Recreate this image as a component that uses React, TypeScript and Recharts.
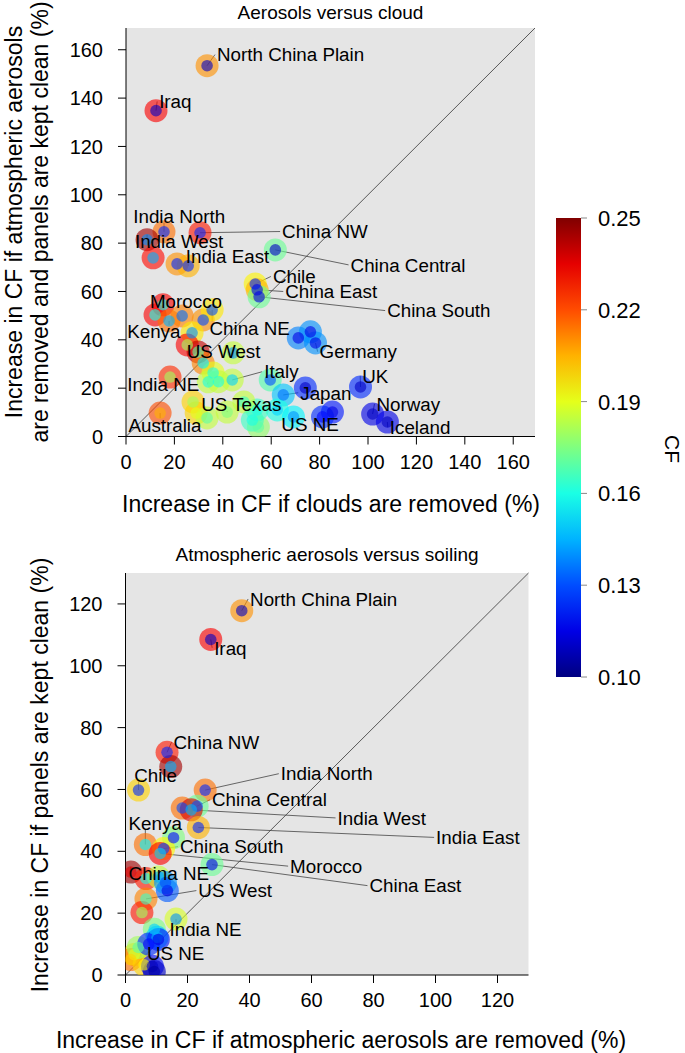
import React from "react";
import {
  ScatterChart,
  Scatter,
  XAxis,
  YAxis,
  ReferenceLine,
  ReferenceArea,
} from "recharts";

// ---------- data: aerosols versus cloud ----------
const TOP_NAMES = [
  "North China Plain", "Iraq", "India North", "China NW", "India West", "", "", "India East",
  "Chile", "China East", "China South", "China Central", "", "Morocco", "Kenya", "",
  "", "China NE", "", "", "", "", "", "US West",
  "India NE", "Italy", "", "Australia", "", "", "", "US Texas",
  "", "Japan", "", "US NE", "", "", "", "",
  "Germany", "", "UK", "Norway", "Iceland", "", "", "",
  "", "",
];
const TOP_X = [
  33.5, 12.4, 15.7, 30.6, 8.7, 11.2, 21.1, 25.7,
  53.4, 54.2, 55.0, 61.7, 12.0, 15.3, 17.8, 23.2,
  31.9, 35.6, 27.3, 25.3, 29.8, 31.9, 36.0, 44.3,
  34.0, 43.9, 18.2, 14.1, 27.7, 29.0, 33.5, 41.8,
  59.6, 65.0, 62.5, 69.2, 54.7, 54.2, 71.2, 76.2,
  78.3, 74.1, 96.9, 101.9, 108.0, 85.3, 81.2, 48.7,
  38.2, 52.2,
];
const TOP_Y = [
  153.4, 134.8, 84.7, 84.3, 81.4, 73.9, 71.4, 70.6,
  63.1, 60.7, 57.8, 77.2, 50.3, 54.5, 47.8, 49.9,
  48.2, 52.4, 42.9, 37.9, 35.0, 30.4, 26.3, 34.6,
  22.6, 23.4, 24.6, 9.7, 14.3, 9.7, 7.7, 10.1,
  23.4, 17.2, 11.0, 8.1, 3.9, 11.0, 40.8, 43.3,
  38.7, 20.1, 20.5, 9.3, 6.0, 10.1, 8.1, 14.3,
  22.7, 6.8,
];
const TOP_CF_OUTER = [
  0.210, 0.232, 0.215, 0.228, 0.245, 0.230, 0.210, 0.205,
  0.195, 0.205, 0.172, 0.172, 0.232, 0.232, 0.215, 0.212,
  0.210, 0.197, 0.197, 0.232, 0.240, 0.212, 0.190, 0.185,
  0.185, 0.185, 0.225, 0.220, 0.200, 0.200, 0.185, 0.185,
  0.168, 0.148, 0.160, 0.155, 0.178, 0.165, 0.138, 0.140,
  0.140, 0.125, 0.125, 0.115, 0.115, 0.122, 0.125, 0.185,
  0.185, 0.165,
];
const TOP_CF_INNER = [
  0.110, 0.110, 0.125, 0.125, 0.140, 0.145, 0.125, 0.125,
  0.125, 0.115, 0.115, 0.110, 0.160, 0.160, 0.145, 0.135,
  0.130, 0.130, 0.140, 0.180, 0.170, 0.155, 0.160, 0.140,
  0.160, 0.150, 0.180, 0.205, 0.180, 0.190, 0.170, 0.175,
  0.130, 0.135, 0.150, 0.140, 0.170, 0.160, 0.115, 0.115,
  0.115, 0.110, 0.110, 0.110, 0.110, 0.115, 0.120, 0.165,
  0.160, 0.160,
];
const TOP_LABEL_NAMES = [
  "North China Plain", "Iraq", "India North", "China NW", "India West", "India East",
  "Chile", "China East", "Morocco", "Kenya", "China NE", "US West", "Italy", "India NE",
  "Japan", "US Texas", "Australia", "US NE", "China Central", "China South", "Germany",
  "UK", "Norway", "Iceland",
];
const TOP_LABEL_X = [
  37.6, 13.7, 3.0, 64.5, 3.7, 24.7, 60.7, 65.8, 9.9, 0.5, 34.5, 25.1, 57.1, 0.5,
  72.0, 31.1, 1.0, 64.2, 92.8, 107.9, 80.0, 97.6, 103.5, 109.0,
];
const TOP_LABEL_Y = [
  158.0, 138.6, 91.3, 84.8, 80.7, 74.5, 66.2, 60.0, 55.8, 43.4, 44.8, 35.4, 26.8, 21.6,
  18.1, 13.3, 4.8, 5.1, 71.0, 52.1, 35.1, 25.1, 13.5, 3.8,
];
const TOP_TICKS = [0, 20, 40, 60, 80, 100, 120, 140, 160];

// ---------- data: atmospheric aerosols versus soiling ----------
const BOT_NAMES = [
  "North China Plain", "Iraq", "China NW", "", "Chile", "India North", "", "China Central",
  "India West", "India East", "Kenya", "", "China South", "Morocco", "China East", "China NE",
  "", "", "", "", "US West", "", "India NE", "",
  "", "US NE", "", "", "", "", "", "",
  "",
];
const BOT_X = [
  37.5, 27.5, 13.4, 14.6, 4.2, 25.7, 18.3, 23.1,
  21.2, 23.5, 6.4, 15.5, 12.3, 11.2, 27.9, 1.7,
  6.6, 10.6, 13.5, 12.9, 6.6, 5.3, 16.3, 9.3,
  10.2, 10.6, 2.8, 1.7, 6.0, 8.7, 9.3, 4.1,
  7.5,
];
const BOT_Y = [
  117.8, 108.5, 72.0, 67.4, 59.8, 59.8, 54.0, 54.6,
  53.4, 47.7, 42.2, 44.4, 40.9, 39.3, 35.7, 33.3,
  31.2, 31.7, 27.3, 29.9, 24.6, 20.2, 18.1, 14.8,
  12.2, 11.5, 6.6, 5.0, 3.3, 2.8, 1.1, 8.9,
  10.0,
];
const BOT_CF_OUTER = [
  0.210, 0.232, 0.228, 0.245, 0.200, 0.215, 0.215, 0.172,
  0.237, 0.205, 0.215, 0.175, 0.195, 0.232, 0.172, 0.245,
  0.228, 0.185, 0.132, 0.140, 0.212, 0.228, 0.188, 0.175,
  0.150, 0.122, 0.200, 0.215, 0.200, 0.120, 0.110, 0.180,
  0.125,
];
const BOT_CF_INNER = [
  0.110, 0.110, 0.125, 0.145, 0.125, 0.125, 0.130, 0.130,
  0.145, 0.125, 0.155, 0.120, 0.130, 0.150, 0.115, 0.235,
  0.160, 0.145, 0.115, 0.130, 0.165, 0.180, 0.140, 0.150,
  0.145, 0.115, 0.190, 0.200, 0.195, 0.110, 0.105, 0.170,
  0.120,
];
const BOT_LABEL_NAMES = [
  "North China Plain", "Iraq", "China NW", "Chile", "India North", "China Central",
  "Kenya", "China South", "Morocco", "China NE", "US West", "India NE", "US NE",
  "India West", "India East", "China East",
];
const BOT_LABEL_X = [
  40.2, 28.6, 15.5, 2.8, 50.1, 27.9, 1.0, 17.6, 53.1, 1.0, 23.5, 14.2, 6.9, 68.4, 100.2, 78.7,
];
const BOT_LABEL_Y = [
  121.6, 105.8, 75.3, 64.7, 65.1, 56.7, 49.1, 41.5, 35.2, 32.8, 27.3, 14.8, 7.2, 50.8, 44.5, 28.9,
];
const BOT_TICKS = [0, 20, 40, 60, 80, 100, 120];

const CF_MIN = 0.1;
const CF_MAX = 0.25;
const CF_TICKS = [0.25, 0.22, 0.19, 0.16, 0.13, 0.1];

const FONT = '"Liberation Sans", Arial, Helvetica, sans-serif';
const LABEL_SIZE = 18.8;
const BG = "#e5e5e5";

// jet colour map
function jet(v: number) {
  const t = Math.min(1, Math.max(0, (v - CF_MIN) / (CF_MAX - CF_MIN)));
  const c = (x: number) => Math.round(255 * Math.min(1, Math.max(0, 1.5 - Math.abs(x))));
  return `rgb(${c(4 * t - 3)},${c(4 * t - 2)},${c(4 * t - 1)})`;
}

type Pt = { name: string; x: number; y: number; outer: number; inner: number };
type Lb = { name: string; x: number; y: number; px: number; py: number };

function buildPoints(names: string[], xs: number[], ys: number[], o: number[], i: number[]): Pt[] {
  return xs.map((x, k) => ({ name: names[k], x, y: ys[k], outer: o[k], inner: i[k] }));
}

function buildLabels(names: string[], xs: number[], ys: number[], pts: Pt[]): Lb[] {
  return names.map((name, k) => {
    const p = pts.find((q) => q.name === name)!;
    return { name, x: xs[k], y: ys[k], px: p.x, py: p.y };
  });
}

const topPts = buildPoints(TOP_NAMES, TOP_X, TOP_Y, TOP_CF_OUTER, TOP_CF_INNER);
const topLabels = buildLabels(TOP_LABEL_NAMES, TOP_LABEL_X, TOP_LABEL_Y, topPts);
const botPts = buildPoints(BOT_NAMES, BOT_X, BOT_Y, BOT_CF_OUTER, BOT_CF_INNER);
const botLabels = buildLabels(BOT_LABEL_NAMES, BOT_LABEL_X, BOT_LABEL_Y, botPts);

const OuterDot = (p: any) => (
  <circle cx={p.cx} cy={p.cy} r={11.5} fill={jet(p.payload.outer)} fillOpacity={0.62} />
);
const InnerDot = (p: any) => (
  <circle cx={p.cx} cy={p.cy} r={5.8} fill={jet(p.payload.inner)} fillOpacity={0.6} />
);
const LabelText = (p: any) => (
  <text x={p.cx} y={p.cy} dy="0.36em" fontSize={LABEL_SIZE} fontFamily={FONT} fill="#000">
    {p.payload.name}
  </text>
);

interface PanelProps {
  pts: Pt[];
  labels: Lb[];
  max: number;
  ticks: number[];
  top: number;
  height: number;
  plotLeft: number;
  plotRight: number;
  plotTop: number;
  plotBottom: number;
}

function Panel({ pts, labels, max, ticks, top, height, plotLeft, plotRight, plotTop, plotBottom }: PanelProps) {
  const yw = 60;
  const xh = 30;
  const ppuX = (plotRight - plotLeft) / max;
  const ppuY = (plotBottom - plotTop) / max;

  const leaders = labels.map((lb) => {
    const w = (lb.name.length * 0.52 * LABEL_SIZE) / ppuX;
    const hh = (0.36 * LABEL_SIZE) / ppuY;
    const gap = 2 / ppuX;
    let ex = lb.px;
    let ey = lb.py < lb.y ? lb.y - hh : lb.y + hh;
    if (lb.px < lb.x) {
      ex = lb.x - gap;
      ey = lb.y;
    } else if (lb.px > lb.x + w) {
      ex = lb.x + w + gap;
      ey = lb.y;
    }
    return { name: lb.name, seg: [{ x: lb.px, y: lb.py }, { x: ex, y: ey }] };
  });

  const tickStyle = { fontSize: 20, fill: "#000", fontFamily: FONT };

  return (
    <div style={{ position: "absolute", left: 0, top }}>
      <ScatterChart
        width={685}
        height={height}
        margin={{
          top: plotTop,
          right: 685 - plotRight,
          bottom: height - plotBottom - xh,
          left: plotLeft - yw,
        }}
      >
        <XAxis
          type="number"
          dataKey="x"
          domain={[0, max]}
          ticks={ticks}
          height={xh}
          tickSize={8}
          tickMargin={10}
          tick={tickStyle}
          axisLine={{ stroke: "#000" }}
          tickLine={{ stroke: "#000" }}
          allowDataOverflow
        />
        <YAxis
          type="number"
          dataKey="y"
          domain={[0, max]}
          ticks={ticks}
          width={yw}
          tickSize={8}
          tickMargin={15}
          tick={tickStyle}
          axisLine={{ stroke: "#000" }}
          tickLine={{ stroke: "#000" }}
          allowDataOverflow
        />
        <ReferenceArea x1={0} x2={max} y1={0} y2={max} fill={BG} fillOpacity={1} stroke="none" />
        <Scatter data={pts} shape={OuterDot} isAnimationActive={false} />
        <Scatter data={pts} shape={InnerDot} isAnimationActive={false} />
        <ReferenceLine
          segment={[{ x: 0, y: 0 }, { x: max, y: max }]}
          stroke="#333"
          strokeWidth={0.8}
        />
        {leaders.map((l) => (
          <ReferenceLine key={l.name} segment={l.seg} stroke="#444" strokeWidth={0.8} />
        ))}
        <Scatter data={labels} shape={LabelText} isAnimationActive={false} />
      </ScatterChart>
    </div>
  );
}

function Overlay() {
  const barX = 556;
  const barTop = 218;
  const barH = 459;
  const stops = [0, 0.1, 0.2, 0.3, 0.4, 0.5, 0.6, 0.7, 0.8, 0.9, 1];
  return (
    <svg
      width={685}
      height={1053}
      style={{ position: "absolute", left: 0, top: 0 }}
      fontFamily={FONT}
    >
      <defs>
        <linearGradient id="cfbar" x1="0" y1="1" x2="0" y2="0">
          {stops.map((s) => (
            <stop key={s} offset={s} stopColor={jet(CF_MIN + s * (CF_MAX - CF_MIN))} />
          ))}
        </linearGradient>
      </defs>
      <text x={330.5} y={12} textAnchor="middle" dy="0.36em" fontSize={19}>
        Aerosols versus cloud
      </text>
      <text x={327} y={554} textAnchor="middle" dy="0.36em" fontSize={19}>
        Atmospheric aerosols versus soiling
      </text>
      <text x={331} y={504} textAnchor="middle" dy="0.36em" fontSize={23}>
        Increase in CF if clouds are removed (%)
      </text>
      <text x={341} y={1040} textAnchor="middle" dy="0.36em" fontSize={23}>
        Increase in CF if atmospheric aerosols are removed (%)
      </text>
      <g transform="translate(14,222) rotate(-90)">
        <text textAnchor="middle" dy="0.36em" fontSize={23}>
          Increase in CF if atmospheric aerosols
        </text>
      </g>
      <g transform="translate(40,222) rotate(-90)">
        <text textAnchor="middle" dy="0.36em" fontSize={23}>
          are removed and panels are kept clean (%)
        </text>
      </g>
      <g transform="translate(40,775) rotate(-90)">
        <text textAnchor="middle" dy="0.36em" fontSize={23}>
          Increase in CF if panels are kept clean (%)
        </text>
      </g>
      <rect x={barX} y={barTop} width={25} height={barH} fill="url(#cfbar)" />
      {CF_TICKS.map((t) => {
        const y = barTop + ((CF_MAX - t) / (CF_MAX - CF_MIN)) * barH;
        return (
          <g key={t}>
            <line x1={barX + 25} x2={barX + 31} y1={y} y2={y} stroke="#888" />
            <text x={598} y={y} dy="0.36em" fontSize={22}>
              {t.toFixed(2)}
            </text>
          </g>
        );
      })}
      <g transform="translate(673,449) rotate(90)">
        <text textAnchor="middle" dy="0.36em" fontSize={21}>
          CF
        </text>
      </g>
    </svg>
  );
}

export default function App() {
  return (
    <div
      style={{
        position: "absolute",
        left: 0,
        top: 0,
        width: 685,
        height: 1053,
        background: "#fff",
        fontFamily: FONT,
      }}
    >
      <Overlay />
      <Panel
        pts={topPts}
        labels={topLabels}
        max={169}
        ticks={TOP_TICKS}
        top={0}
        height={530}
        plotLeft={126}
        plotRight={535}
        plotTop={28}
        plotBottom={436.5}
      />
      <Panel
        pts={botPts}
        labels={botLabels}
        max={130}
        ticks={BOT_TICKS}
        top={545}
        height={508}
        plotLeft={125.5}
        plotRight={528.5}
        plotTop={28}
        plotBottom={430}
      />
    </div>
  );
}
